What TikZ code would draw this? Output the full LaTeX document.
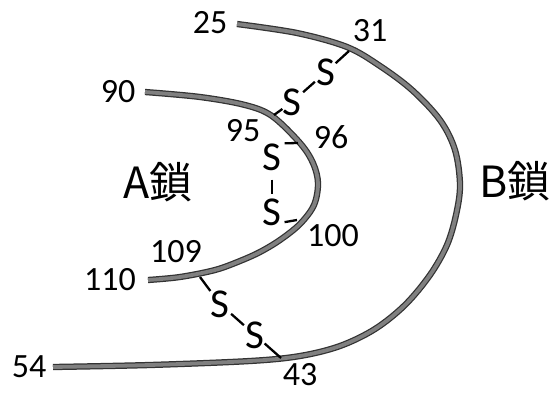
\documentclass[tikz,border=0pt]{standalone}
\usepackage{fontspec}
\setmainfont{Carlito}
\newfontfamily\cjk{Noto Sans CJK JP}
\begin{document}
\begin{tikzpicture}[x=1pt,y=-1pt,
  num/.style={font=\fontsize{34}{34}\selectfont, inner sep=0pt},
  sulf/.style={font=\fontsize{41}{41}\selectfont, inner sep=0pt},
  chainlbl/.style={font=\cjk\fontsize{43}{43}\selectfont, inner sep=0pt},
  chain/.style={line width=3.8pt, draw=black!50, line cap=butt,
    preaction={draw=black!80, line width=6.3pt, line cap=butt}},
  bond/.style={line width=2.3pt, black}]
\useasboundingbox (0,0) rectangle (552,394);

% B chain
\draw[chain] plot[smooth, tension=0.55] coordinates {
  (237,24) (297,33) (347,47) (380,66) (412,90) (440,120) (455,150)
  (460,185) (456,215) (447,245) (430,275) (405,305) (375,329)
  (340,346) (300,356) (250,361) (150,365) (53,367)};
% A chain
\draw[chain] plot[smooth, tension=0.55] coordinates {
  (145,92) (200,97) (245,105) (272,116) (300,143) (313,163) (318,183)
  (314,205) (300,224) (280,240) (260,252) (240,261) (215,270)
  (180,277) (148,280)};

% attachment points on the chains
\coordinate (a95) at (274,115);
\coordinate (b31) at (349,51);
\coordinate (a96) at (298,143);
\coordinate (a100) at (297,220);
\coordinate (a109) at (200,277);
\coordinate (b43) at (281,358);

% sulfur atoms
\node[sulf] (s1) at (292,102) {S};
\node[sulf] (s2) at (326,72) {S};
\node[sulf] (s3) at (272,157) {S};
\node[sulf] (s4) at (272,212) {S};
\node[sulf] (s5) at (220,304) {S};
\node[sulf] (s6) at (255,335) {S};

% bonds
\draw[bond] (a95) -- (s1);
\draw[bond, shorten <=2pt, shorten >=2pt] (s1) -- (s2);
\draw[bond] (s2) -- (b31);
\draw[bond, shorten <=3pt] (s3.north east) -- (a96);
\draw[bond, shorten <=9pt, shorten >=4pt] (s3) -- (s4);
\draw[bond, shorten <=3pt] ([yshift=3pt]s4.south east) -- (a100);
\draw[bond] (a109) -- (s5);
\draw[bond, shorten <=2pt, shorten >=2pt] (s5) -- (s6);
\draw[bond] (s6) -- (b43);

% residue numbers
\node[num] (n25) at (210,23) {25};
\node[num] (n31) at (370,31) {31};
\node[num] (n90) at (118,92) {90};
\node[num] (n95) at (243,131) {95};
\node[num] (n96) at (331,137) {96};
\node[num] (n100) at (333,236) {100};
\node[num] (n109) at (176,252) {109};
\node[num] (n110) at (110,280) {110};
\node[num] (n54) at (29,367) {54};
\node[num] (n43) at (300,375) {43};

% chain labels
\node[chainlbl] (la) at (158,182) {A鎖};
\node[chainlbl] (lb) at (515,181) {B鎖};
\end{tikzpicture}
\end{document}
